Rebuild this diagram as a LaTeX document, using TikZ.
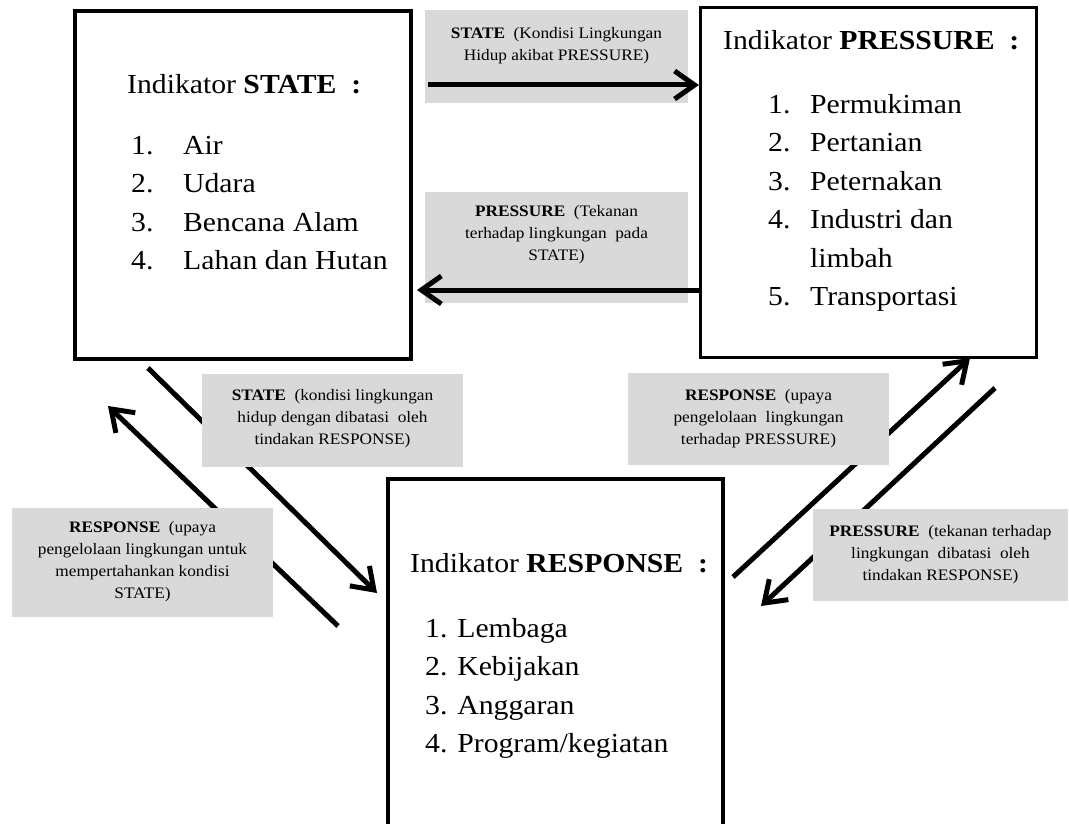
\documentclass[tikz,border=0pt]{standalone}
\usepackage{fontspec}
\setmainfont{Liberation Serif}[FakeStretch=1.08]
\usetikzlibrary{positioning,arrows.meta}
\tikzset{
every node/.style={inner sep=0pt}
, indbox/.style={draw, line width=3.5pt}
, graybox/.style={fill=black!15}
, bigtext/.style={font=\fontsize{27.5}{38.5}\selectfont, align=left}
, smalltext/.style={font=\fontsize{16}{22}\selectfont, align=center}
, flow/.style={line width=5pt, -{Straight Barb[length=20pt, width=28pt]}}}

\begin{document}
\begin{tikzpicture}[x=1pt, y=-1pt]
\clip (0,0) rectangle (1069,824);
% indicator boxes
\node[indbox, minimum width=336, minimum height=348] at (242.8,185) (state) {};
\node[indbox, minimum width=336, minimum height=350] at (868.7,182.3) (pressure) {};
\node[indbox, minimum width=335, minimum height=381] at (555.3,669.6) (response) {};

\node[bigtext, anchor=base west] at (127,94) (statehead) {Indikator \textbf{STATE~~:}};
\node[bigtext, anchor=north west] at (131,136) (statelist) {\makebox[52pt][l]{1.}Air\\
  \makebox[52pt][l]{2.}Udara\\
  \makebox[52pt][l]{3.}Bencana Alam\\
  \makebox[52pt][l]{4.}Lahan dan Hutan};

\node[bigtext, anchor=base west] at (723,50) (pressurehead) {Indikator \textbf{PRESSURE~~:}};
\node[bigtext, anchor=north west] at (768,94) (pressurelist) {\makebox[42pt][l]{1.}Permukiman\\
  \makebox[42pt][l]{2.}Pertanian\\
  \makebox[42pt][l]{3.}Peternakan\\
  \makebox[42pt][l]{4.}Industri dan\\
  \makebox[42pt][l]{}limbah\\
  \makebox[42pt][l]{5.}Transportasi};

\node[bigtext, anchor=base west] at (410,572) (responsehead) {Indikator \textbf{RESPONSE~~:}};
\node[bigtext, anchor=north west] at (425,618) (responselist) {1. Lembaga\\
  2. Kebijakan\\
  3. Anggaran\\
  4. Program/kegiatan};

% diagonal arrows (partly hidden by the grey labels)
\coordinate (s2r) at (148,368);
\coordinate (s2rend) at (377,593);
\coordinate (r2s) at (338,626);
\coordinate (r2send) at (108,406);
\coordinate (r2p) at (733,577);
\coordinate (r2pend) at (970,358);
\coordinate (p2r) at (995,388);
\coordinate (p2rend) at (761,606);
\draw[flow] (s2r) -- (s2rend);
\draw[flow] (r2s) -- (r2send);
\draw[flow] (r2p) -- (r2pend);
\draw[flow] (p2r) -- (p2rend);

% grey labels
\node[graybox, minimum width=263, minimum height=93] at (556.5,56.5) (g1) {};
\node[graybox, minimum width=263, minimum height=111] at (556.5,247.5) (g2) {};
\node[graybox, minimum width=261, minimum height=93] at (332.5,420.5) (g3) {};
\node[graybox, minimum width=261, minimum height=92] at (758.5,419) (g4) {};
\node[graybox, minimum width=261, minimum height=109] at (142.5,562.5) (g5) {};
\node[graybox, minimum width=255, minimum height=92] at (940.5,555) (g6) {};

\node[smalltext] at (556.5,46) (l1) {\textbf{STATE}~~(Kondisi Lingkungan\\Hidup akibat PRESSURE)};
\node[smalltext] at (556.5,235) (l2) {\textbf{PRESSURE}~~(Tekanan\\terhadap lingkungan~~pada\\STATE)};
\node[smalltext] at (332.5,419) (l3) {\textbf{STATE}~~(kondisi lingkungan\\hidup dengan dibatasi~~oleh\\tindakan RESPONSE)};
\node[smalltext] at (758.5,419) (l4) {\textbf{RESPONSE}~~(upaya\\pengelolaan~~lingkungan\\terhadap PRESSURE)};
\node[smalltext] at (142.5,562) (l5) {\textbf{RESPONSE}~~(upaya\\pengelolaan lingkungan untuk\\mempertahankan kondisi\\STATE)};
\node[smalltext] at (940.5,555) (l6) {\textbf{PRESSURE}~~(tekanan terhadap\\lingkungan~~dibatasi~~oleh\\tindakan RESPONSE)};

% horizontal arrows
\coordinate (s2p) at (428,85);
\coordinate (p2send) at (417,290);
\draw[flow] (s2p) -- (s2p -| pressure.west);
\draw[flow] (p2send -| pressure.west) -- (p2send);
\end{tikzpicture}
\end{document}
